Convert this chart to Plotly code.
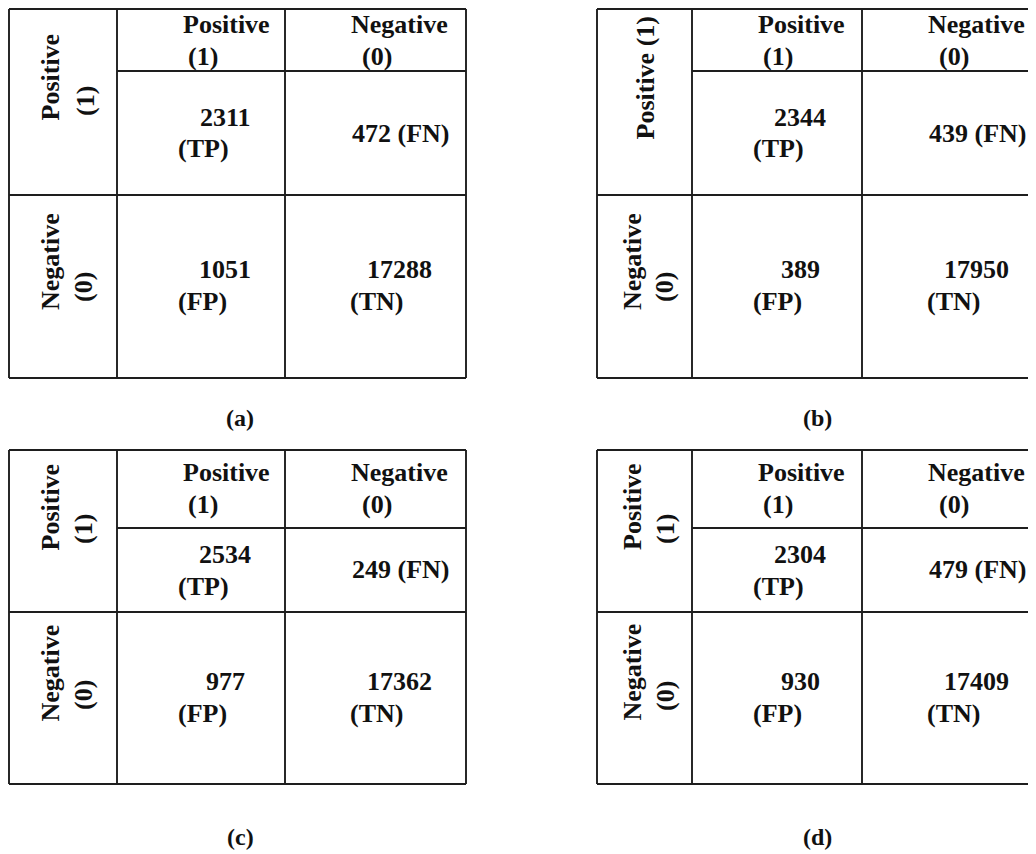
import plotly.graph_objects as go

# ---------------- data ----------------
panel_names = ["(a)", "(b)", "(c)", "(d)"]
tp_values = [2311, 2344, 2534, 2304]
fn_values = [472, 439, 249, 479]
fp_values = [1051, 389, 977, 930]
tn_values = [17288, 17950, 17362, 17409]
col_header_1 = ["Positive", "(1)"]
col_header_0 = ["Negative", "(0)"]
row_header_1 = ["Positive", "(1)"]
row_header_0 = ["Negative", "(0)"]

# ---------------- layout constants ----------------
W, H = 1036, 854
PAGE_OFF = 8  # default page body margin
FS = 26
FAM = "Liberation Serif, Times New Roman, serif"
LINE_C = "#1e1e1e"
LW = 1.9

left_x = dict(x0=9, c1=117, c2=285, x1=466)
right_x = dict(x0=597, c1=692, c2=862, x1=1080)
top_y = dict(top=9, hdr=71, mid=195, bot=378,
             h1=33, h2=65, r1a=126, r1b=157, r1s=142, r2a=278, r2b=310, cap=418)
bot_y = dict(top=450, hdr=528, mid=612, bot=784,
             h1=481, h2=513, r1a=563, r1b=595, r1s=578, r2a=690, r2b=722, cap=837)

# row-label centres per panel: (x, y) for first and second line of each row label
row_lab_pos = [
    dict(p1=(50, 77.5), p2=(85, 101), n1=(50, 262), n2=(83, 287), single=False),
    dict(p=(645, 78.5), n1=(632, 262), n2=(664, 287), single=True),
    dict(p1=(50, 507.5), p2=(83, 529), n1=(50, 673.5), n2=(83, 695), single=False),
    dict(p1=(632, 507), p2=(665, 529), n1=(632, 672.5), n2=(665, 696), single=False),
]
panel_geo = [(left_x, top_y), (right_x, top_y), (left_x, bot_y), (right_x, bot_y)]
cap_x = [240, 817, 240, 817]

fig = go.Figure()
shapes = []
ann = []


def line(x0, y0, x1, y1):
    shapes.append(dict(type="line", xref="x", yref="y", x0=x0, y0=y0, x1=x1, y1=y1,
                       line=dict(color=LINE_C, width=LW)))


def txt(x, y, s, xanchor="center", angle=0, size=FS):
    ann.append(dict(x=x, y=y, xref="x", yref="y", text=s, showarrow=False,
                    xanchor=xanchor, yanchor="middle", textangle=angle,
                    font=dict(family=FAM, size=size, color="#111111")))


MID = 0.33 * FS  # baseline -> visual middle

for i, name in enumerate(panel_names):
    gx, gy = panel_geo[i]
    # table frame
    line(gx["x0"], gy["top"], gx["x1"], gy["top"])
    line(gx["x0"], gy["bot"], gx["x1"], gy["bot"])
    line(gx["x0"], gy["top"], gx["x0"], gy["bot"])
    line(gx["x1"], gy["top"], gx["x1"], gy["bot"])
    line(gx["c1"], gy["top"], gx["c1"], gy["bot"])
    line(gx["c2"], gy["top"], gx["c2"], gy["bot"])
    line(gx["c1"], gy["hdr"], gx["x1"], gy["hdr"])
    line(gx["x0"], gy["mid"], gx["x1"], gy["mid"])

    c1, c2 = gx["c1"], gx["c2"]
    # column headers
    txt(c1 + 109, gy["h1"] - MID, "<b>%s</b>" % col_header_1[0])
    txt(c1 + 69, gy["h2"] - MID, "<b>%s</b>" % col_header_1[1], xanchor="left")
    txt(c2 + 114, gy["h1"] - MID, "<b>%s</b>" % col_header_0[0])
    txt(c2 + 75, gy["h2"] - MID, "<b>%s</b>" % col_header_0[1], xanchor="left")

    # cells
    txt(c1 + 108, gy["r1a"] - MID, "<b>%d</b>" % tp_values[i])
    txt(c1 + 59, gy["r1b"] - MID, "<b>(TP)</b>", xanchor="left")
    txt(c2 + 115, gy["r1s"] - MID, "<b>%d (FN)</b>" % fn_values[i])
    txt(c1 + 108, gy["r2a"] - MID, "<b>%d</b>" % fp_values[i])
    txt(c1 + 59, gy["r2b"] - MID, "<b>(FP)</b>", xanchor="left")
    txt(c2 + 114, gy["r2a"] - MID, "<b>%d</b>" % tn_values[i])
    txt(c2 + 63, gy["r2b"] - MID, "<b>(TN)</b>", xanchor="left")

    # row headers (rotated)
    rp = row_lab_pos[i]
    if rp["single"]:
        txt(rp["p"][0], rp["p"][1], "<b>%s %s</b>" % (row_header_1[0], row_header_1[1]), angle=-90)
    else:
        txt(rp["p1"][0], rp["p1"][1], "<b>%s</b>" % row_header_1[0], angle=-90)
        txt(rp["p2"][0], rp["p2"][1], "<b>%s</b>" % row_header_1[1], angle=-90)
    txt(rp["n1"][0], rp["n1"][1], "<b>%s</b>" % row_header_0[0], angle=-90)
    txt(rp["n2"][0], rp["n2"][1], "<b>%s</b>" % row_header_0[1], angle=-90)

    # caption
    txt(cap_x[i], gy["cap"], "<b>%s</b>" % name, size=24)

fig.update_layout(
    width=W, height=H,
    margin=dict(l=0, r=0, t=0, b=0),
    paper_bgcolor="white", plot_bgcolor="white",
    xaxis=dict(range=[PAGE_OFF, W + PAGE_OFF], visible=False, fixedrange=True),
    yaxis=dict(range=[H + PAGE_OFF, PAGE_OFF], visible=False, fixedrange=True),
    shapes=shapes, annotations=ann, showlegend=False,
)
fig.write_html("out.html")
